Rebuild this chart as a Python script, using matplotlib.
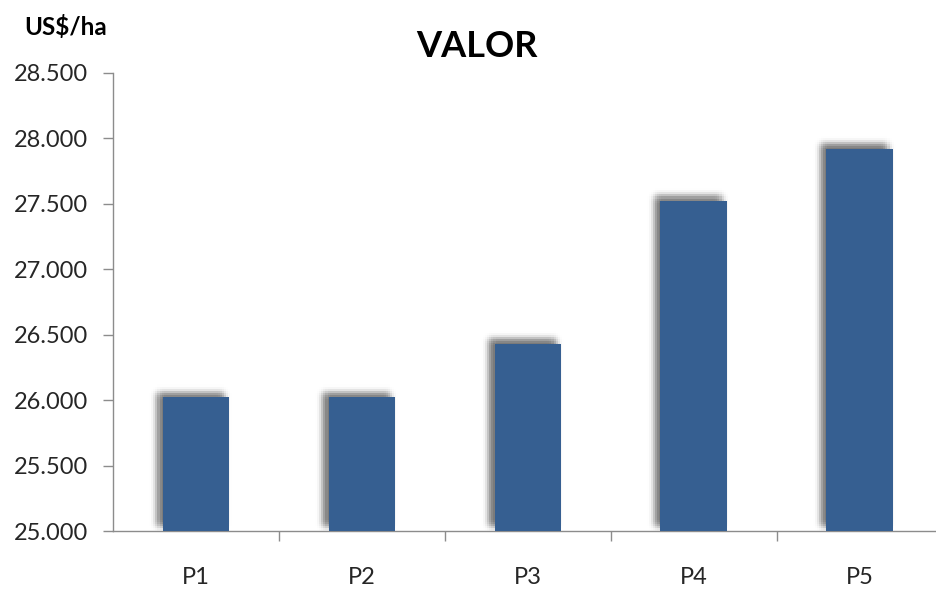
import numpy as np
import matplotlib
matplotlib.use("Agg")
import matplotlib.pyplot as plt
from matplotlib import patheffects as pe
from matplotlib.ticker import FixedLocator, FuncFormatter

# Data
categories = ["P1", "P2", "P3", "P4", "P5"]
values = [26020, 26020, 26430, 27520, 27920]
y_ticks = [25000, 25500, 26000, 26500, 27000, 27500, 28000, 28500]

title = "VALOR"
unit_label = "US$/ha"

bar_color = "#365F91"
axis_color = "#8C8C8C"
font = ["Lato", "DejaVu Sans"]

plt.rcParams["font.family"] = font

fig = plt.figure(figsize=(9.36, 5.90), dpi=100)
fig.patch.set_facecolor("white")

# Axes run slightly past the right edge of the canvas
ax = fig.add_axes([113 / 936, 59 / 590, (942.5 - 113) / 936, (531 - 72.9) / 590])

x = np.arange(len(categories))

# Soft drop shadow: many faint offset copies, weighted like a gaussian blur
shadow_effects = []
base_dx, base_dy = -3.8, 3.4   # points (up-left)
blur = 2.5                     # points
steps = np.linspace(-2.4, 2.4, 9)
for sx in steps:
    for sy in steps:
        w = np.exp(-(sx ** 2 + sy ** 2) / 2)
        shadow_effects.append(
            pe.SimplePatchShadow(offset=(base_dx + sx * blur, base_dy + sy * blur),
                                 shadow_rgbFace="black", alpha=0.038 * w)
        )
shadow_effects.append(pe.Normal())

bars = ax.bar(x, np.array(values) - y_ticks[0], bottom=y_ticks[0], width=0.4,
              color=bar_color, edgecolor="none", zorder=3)
for b in bars:
    b.set_path_effects(shadow_effects)

ax.set_xlim(-0.5, len(categories) - 0.5)
ax.set_ylim(y_ticks[0], y_ticks[-1])

# Spines
for side in ("top", "right"):
    ax.spines[side].set_visible(False)
for side in ("left", "bottom"):
    ax.spines[side].set_color(axis_color)
    ax.spines[side].set_linewidth(1.0)

# Y axis ticks with dot thousands separator
ax.yaxis.set_major_locator(FixedLocator(y_ticks))
ax.yaxis.set_major_formatter(FuncFormatter(lambda v, p: f"{v:,.0f}".replace(",", ".")))
ax.tick_params(axis="y", direction="out", length=7, width=1.0, color=axis_color,
               pad=11, labelsize=17, labelcolor="#262626")

# X axis: tick marks at category boundaries, labels at centers
ax.xaxis.set_major_locator(FixedLocator(np.arange(0.5, len(categories) - 0.5, 1.0)))
ax.xaxis.set_major_formatter(FuncFormatter(lambda v, p: ""))
ax.xaxis.set_minor_locator(FixedLocator(x))
ax.xaxis.set_minor_formatter(FuncFormatter(lambda v, p: categories[int(round(v))]))
ax.tick_params(axis="x", which="major", direction="out", length=7, width=1.0, color=axis_color)
ax.tick_params(axis="x", which="minor", length=0, pad=26, labelsize=17, labelcolor="#262626")

# Title and unit label
fig.text(477 / 936, 1 - 57 / 590, title, ha="center", va="baseline",
         fontsize=26, fontweight="bold", color="black")
fig.text(24 / 936, 1 - 35 / 590, unit_label, ha="left", va="baseline",
         fontsize=17.5, fontweight="bold", color="black")

fig.savefig("out.png", dpi=100, facecolor="white")
